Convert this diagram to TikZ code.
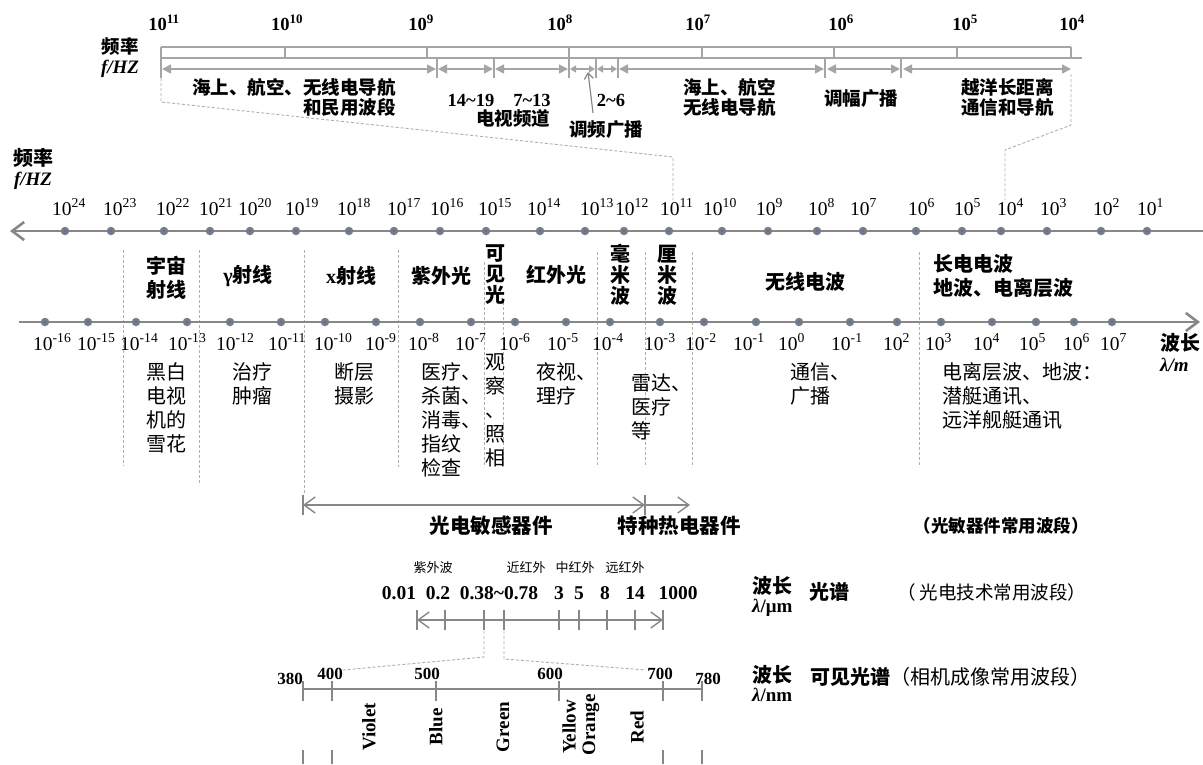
\documentclass[tikz,border=0pt]{standalone}
\usepackage{fontspec}
\setmainfont{Liberation Serif}
\newfontfamily\cjk{Noto Sans CJK SC}
\usetikzlibrary{arrows.meta}
\definecolor{axisgray}{RGB}{135,135,135}
\definecolor{rulegray}{RGB}{165,165,165}
\definecolor{dashgray}{RGB}{175,175,175}
\definecolor{dotgray}{RGB}{120,124,132}
\definecolor{dotblue}{RGB}{80,115,170}
\tikzset{
  every node/.style={inner sep=0pt, text=black},
  toplab/.style={font=\cjk\bfseries\fontsize{18.5}{20}\selectfont},
  topnum/.style={font=\bfseries\fontsize{18.5}{20}\selectfont},
  head/.style={font=\cjk\bfseries\fontsize{20}{24}\selectfont, align=center},
  stackhead/.style={font=\cjk\bfseries\fontsize{20}{21}\selectfont, align=center},
  desc/.style={font=\cjk\fontsize{20}{24}\selectfont},
  expo/.style={font=\fontsize{19.5}{20}\selectfont, anchor=base west},
  unit/.style={font=\bfseries\itshape\fontsize{19}{20}\selectfont},
  dashln/.style={draw=dashgray, line width=0.9pt, dash pattern=on 3pt off 2pt},
  rule/.style={draw=rulegray, line width=1.3pt},
  toparrow/.style={draw=rulegray, line width=1.6pt, {Triangle[length=9pt,width=9pt]}-{Triangle[length=9pt,width=9pt]}},
  smallarrow/.style={draw=rulegray, line width=1.4pt, {Triangle[length=6pt,width=7pt]}-{Triangle[length=6pt,width=7pt]}},
  axisln/.style={draw=axisgray, line width=2.6pt},
  thinax/.style={draw=axisgray, line width=1.4pt},
  axdot/.style={circle, fill=dotgray, minimum size=8.5pt},
  colname/.style={font=\bfseries\fontsize{19}{20}\selectfont, rotate=90},
  numrow/.style={font=\bfseries\fontsize{19.5}{20}\selectfont},
  nmnum/.style={font=\bfseries\fontsize{17}{20}\selectfont},
}
\begin{document}
\begin{tikzpicture}[x=1pt,y=-1pt]
\fill[white] (0,0) rectangle (1203,764);
\useasboundingbox (0,0) rectangle (1203,764);

% ---------- radio band scale (top) ----------
\node[toplab] (fqa) at (120,46) {频率};
\node[unit] (fua) at (120,69) {f/HZ};
\foreach \x/\e in {164/11,287/10,421/9,560/8,698/7,841/6,965/5,1072/4}
  \node[topnum, anchor=base] (tn\e) at (\x,30) {10\textsuperscript{\e}};
\draw[rule] (161,47) -- (1071,47);
\draw[rule] (161,58) -- (1082,58);
\foreach \x in {285,427,702,834,957,1071} \draw[rule] (\x,47) -- (\x,58);
\draw[rule] (161,47) -- (161,78);
\draw[rule] (569,47) -- (569,78);
\foreach \x in {437,494,596,618,825,901} \draw[rule] (\x,58) -- (\x,78);
\foreach \a/\b in {162/436,438/493,495/568,619/824,827/900,903/1071}
  \draw[toparrow] (\a,69) -- (\b,69);
\foreach \a/\b in {570/595,597/617}
  \draw[smallarrow] (\a,69) -- (\b,69);

\node[toplab, align=right, anchor=east] (sea1) at (396,97) {海上、航空、无线电导航\\和民用波段};
\node[topnum] (tv1) at (471,100) {14\textasciitilde19};
\node[topnum] (tv2) at (532,100) {7\textasciitilde13};
\node[toplab] (tv) at (513,118) {电视频道};
\node[topnum] (fm1) at (611,100) {2\textasciitilde6};
\node[toplab] (fm) at (606,130) {调频广播};
\coordinate (fmtip) at (588,72);
\draw[draw=axisgray, line width=1.2pt, -{Straight Barb[length=6pt,width=9pt]}] (fm.north) ++(-13,-8) -- (fmtip);
\node[toplab, align=left, anchor=west] (sea2) at (683,97) {海上、航空\\无线电导航};
\node[toplab] (am) at (861,99) {调幅广播};
\node[toplab, align=left, anchor=west] (ocean) at (961,97) {越洋长距离\\通信和导航};

\draw[dashln] (161,78) -- (161,102) -- (673,157) -- (673,200);
\draw[dashln] (1071,74) -- (1071,125) -- (1005,150) -- (1005,200);

% ---------- electromagnetic spectrum ----------
\node[head] (fqb) at (33,158) {频率};
\node[unit] (fub) at (33,181) {f/HZ};
\draw[axisln, {Straight Barb[length=12pt,width=18pt]}-] (10,231) -- (1203,231);
\foreach \x [count=\i] in {65,111,164,210,250,296,349,394,440,486,540,585,624,669,722,768,817,863,916,962,1001,1047,1101,1147}{
  \node[axdot] (ud\i) at (\x,231) {};
  \fill[dotblue] (ud\i) circle (1.3pt);
}
\foreach \x/\e in {52/24,103/23,156/22,199/21,238/20,285/19,337/18,387/17,430/16,478/15,527/14,580/13,615/12,660/11,703/10,756/9,808/8,850/7,908/6,954/5,997/4,1040/3,1093/2,1137/1}
  \node[expo] (fl\e) at (\x,215) {10\textsuperscript{\e}};

% band separators
\foreach \x/\a/\b in {123/250/466,199/250/485,304/250/494,398/250/467,484/262/467,503/302/467,597/252/467,645/252/467,692/252/467,919/252/467}
  \draw[dashln] (\x,\a) -- (\x,\b);

% band names
\node[head] (cos) at (166,278) {宇宙\\射线};
\node[head] (gam) at (248,276) {{\rmfamily γ}射线};
\node[head] (xr) at (351,276) {{\rmfamily x}射线};
\node[head] (uv) at (441,276) {紫外光};
\node[stackhead] (vis) at (495,275) {可\\见\\光};
\node[head] (ir) at (556,275) {红外光};
\node[stackhead] (mm) at (620,275) {毫\\米\\波};
\node[stackhead] (cm) at (667,275) {厘\\米\\波};
\node[head] (radio) at (805,282) {无线电波};
\node[head, align=left, anchor=west] (lw) at (933,276) {长电电波\\地波、电离层波};

% wavelength axis
\draw[axisln, -{Straight Barb[length=12pt,width=18pt]}] (19,322) -- (1200,322);
\foreach \x [count=\i] in {45,88,136,187,230,281,325,376,420,471,515,566,610,660,704,756,799,850,897,941,992,1036,1074,1112}{
  \node[axdot] (ld\i) at (\x,322) {};
  \fill[dotblue] (ld\i) circle (1.3pt);
}
\foreach \x/\e [count=\i] in {33/-16,77/-15,120/-14,168/-13,216/-12,268/-11,314/-10,365/-9,408/-8,455/-7,499/-6,547/-5,592/-4,644/-3,685/-2,733/-1,778/0,831/-1,883/2,925/3,973/4,1019/5,1063/6,1100/7}
  \node[expo] (wl\i) at (\x,350) {10\textsuperscript{\e}};
\node[head, anchor=west] (wlen) at (1160,343) {波长};
\node[unit, anchor=west] (wlu) at (1160,365) {λ/m};

% applications
\node[desc, align=center] (snow) at (166,408) {黑白\\电视\\机的\\雪花};
\node[desc, align=center] (tumor) at (252,384) {治疗\\肿瘤};
\node[desc, align=center] (ct) at (354,384) {断层\\摄影};
\node[desc, align=left, anchor=west] (med) at (421,420) {医疗、\\杀菌、\\消毒、\\指纹\\检查};
\node[desc, align=center] (obs) at (495,410) {观\\察\\、\\照\\相};
\node[desc, align=left, anchor=west] (night) at (536,384) {夜视、\\理疗};
\node[desc, align=left, anchor=west] (radar) at (631,407) {雷达、\\医疗\\等};
\node[desc, align=left, anchor=west] (comm) at (790,384) {通信、\\广播};
\node[desc, align=left, anchor=west] (sub) at (942,396) {电离层波、地波：\\潜艇通讯、\\远洋舰艇通讯};

% ---------- detector ranges ----------
\coordinate (pa) at (303,505);
\coordinate (pb) at (645,505);
\coordinate (pc) at (690,505);
\draw[thinax] ([yshift=-10pt]pa) -- ([yshift=10pt]pa);
\draw[thinax] ([yshift=-10pt]pb) -- ([yshift=10pt]pb);
\draw[thinax, {Straight Barb[length=11pt,width=16pt]}-{Straight Barb[length=11pt,width=16pt]}] (pa) -- (pb);
\draw[thinax, -{Straight Barb[length=11pt,width=16pt]}] (pb) -- (pc);
\node[head, font=\cjk\bfseries\fontsize{20.5}{24}\selectfont] (photo) at (491,526) {光电敏感器件};
\node[head, font=\cjk\bfseries\fontsize{20.5}{24}\selectfont] (therm) at (679,526) {特种热电器件};
\node[toplab, font=\cjk\bfseries\fontsize{17.5}{20}\selectfont] (det) at (1001,526) {（光敏器件常用波段）};

% ---------- optical spectrum in micrometres ----------
\node[font=\cjk\fontsize{13}{14}\selectfont] (uvw) at (433,568) {紫外波};
\node[font=\cjk\fontsize{13}{14}\selectfont] (nir) at (526,568) {近红外};
\node[font=\cjk\fontsize{13}{14}\selectfont] (mir) at (575,568) {中红外};
\node[font=\cjk\fontsize{13}{14}\selectfont] (fir) at (625,568) {远红外};
\node[numrow] (mu1) at (399,593) {0.01};
\node[numrow] (mu2) at (438,593) {0.2};
\node[numrow] (mu3) at (499,593) {0.38\textasciitilde0.78};
\node[numrow] (mu4) at (559,593) {3};
\node[numrow] (mu5) at (579,593) {5};
\node[numrow] (mu6) at (605,593) {8};
\node[numrow] (mu7) at (635,593) {14};
\node[numrow] (mu8) at (678,593) {1000};
\coordinate (ma) at (417,620);
\coordinate (mb) at (663,620);
\draw[thinax, {Straight Barb[length=11pt,width=16pt]}-{Straight Barb[length=11pt,width=16pt]}] (ma) -- (mb);
\foreach \x in {417,445,484,504,559,579,607,635,663}
  \draw[thinax] (\x,610) -- (\x,630);
\node[head, anchor=west] (wl2) at (752,586) {波长};
\node[font=\bfseries\fontsize{19}{20}\selectfont, anchor=west] (wl2u) at (752,608) {\textit{λ}/μm};
\node[head] (spec) at (829,592) {光谱};
\node[desc, font=\cjk\fontsize{18.5}{20}\selectfont, anchor=west] (optband) at (897,592) {（ 光电技术常用波段）};

% zoom into the visible band
\draw[dashln] (484,631) -- (484,657) -- (343,670);
\draw[dashln] (504,631) -- (504,659) -- (646,670);

% ---------- visible spectrum in nanometres ----------
\draw[draw=axisgray, line width=2.2pt] (303,689) -- (702,689);
\foreach \x in {303,332,436,559,663,702} \draw[thinax] (\x,681) -- (\x,701);
\foreach \x in {303,332,663,702} \draw[thinax] (\x,750) -- (\x,764);
\node[nmnum] (n380) at (290,679) {380};
\node[nmnum] (n400) at (330,674) {400};
\node[nmnum] (n500) at (427,674) {500};
\node[nmnum] (n600) at (550,674) {600};
\node[nmnum] (n700) at (660,674) {700};
\node[nmnum] (n780) at (708,679) {780};
\node[colname] (cv) at (369,727) {Violet};
\node[colname] (cb) at (436,727) {Blue};
\node[colname] (cg) at (503,727) {Green};
\node[colname] (cy) at (569,727) {Yellow};
\node[colname] (co) at (591,725) {Orange};
\node[colname] (cr) at (637,727) {Red};
\node[head, anchor=west] (wl3) at (752,675) {波长};
\node[font=\bfseries\fontsize{19}{20}\selectfont, anchor=west] (wl3u) at (752,695) {\textit{λ}/nm};
\node[head, anchor=west] (visspec) at (810,677) {可见光谱{\mdseries （相机成像常用波段）}};
\end{tikzpicture}
\end{document}
